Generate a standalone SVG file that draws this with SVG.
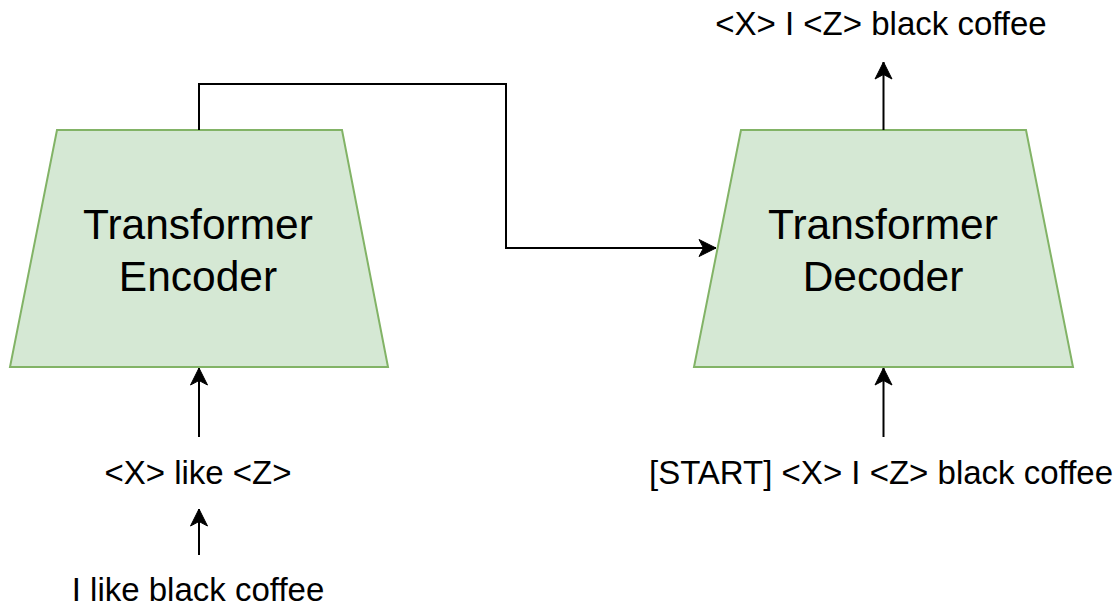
<svg xmlns="http://www.w3.org/2000/svg" width="1116" height="606" viewBox="0 0 1116 606">
<defs>
<style>
.trap{fill:#d5e8d4;stroke:#82b366;stroke-width:2}
.big{font-family:"Liberation Sans",Arial,sans-serif;font-size:42.5px;fill:#000;text-anchor:middle}
.lbl{font-family:"Liberation Sans",Arial,sans-serif;font-size:33px;fill:#000;text-anchor:middle}
.edge{fill:none;stroke:#000;stroke-width:2}
</style>
<marker id="arr" viewBox="-19 -10 21 20" refX="0" refY="0" markerWidth="21" markerHeight="20" markerUnits="userSpaceOnUse" orient="auto">
<path d="M0,0 L-17,-8.5 L-12.5,0 L-17,8.5 Z" fill="#000" stroke="#000" stroke-width="1"/>
</marker>
</defs>
<rect width="1116" height="606" fill="#fff"/>
<g id="encoder">
<polygon class="trap" points="57,130 342,130 388,367 10,367"/>
<text class="big" x="198" y="239">Transformer</text>
<text class="big" x="198" y="291">Encoder</text>
</g>
<g id="decoder">
<polygon class="trap" points="741,130 1026,130 1073,367 694,367"/>
<text class="big" x="883" y="239">Transformer</text>
<text class="big" x="883" y="291">Decoder</text>
</g>
<g id="label-input">
<text class="lbl" x="198" y="601">I like black coffee</text>
</g>
<g id="label-masked">
<text class="lbl" x="198" y="484">&lt;X&gt; like &lt;Z&gt;</text>
</g>
<g id="label-decoder-input">
<text class="lbl" x="881" y="484">[START] &lt;X&gt; I &lt;Z&gt; black coffee</text>
</g>
<g id="label-output">
<text class="lbl" x="881" y="35">&lt;X&gt; I &lt;Z&gt; black coffee</text>
</g>
<g id="connectors">
<path class="edge" d="M199,130 V84 H506 V248 H716" marker-end="url(#arr)"/>
<path class="edge" d="M883.5,130 V62" marker-end="url(#arr)"/>
<path class="edge" d="M199,437 V368" marker-end="url(#arr)"/>
<path class="edge" d="M883.5,437 V368" marker-end="url(#arr)"/>
<path class="edge" d="M199,555 V509" marker-end="url(#arr)"/>
</g>
</svg>
